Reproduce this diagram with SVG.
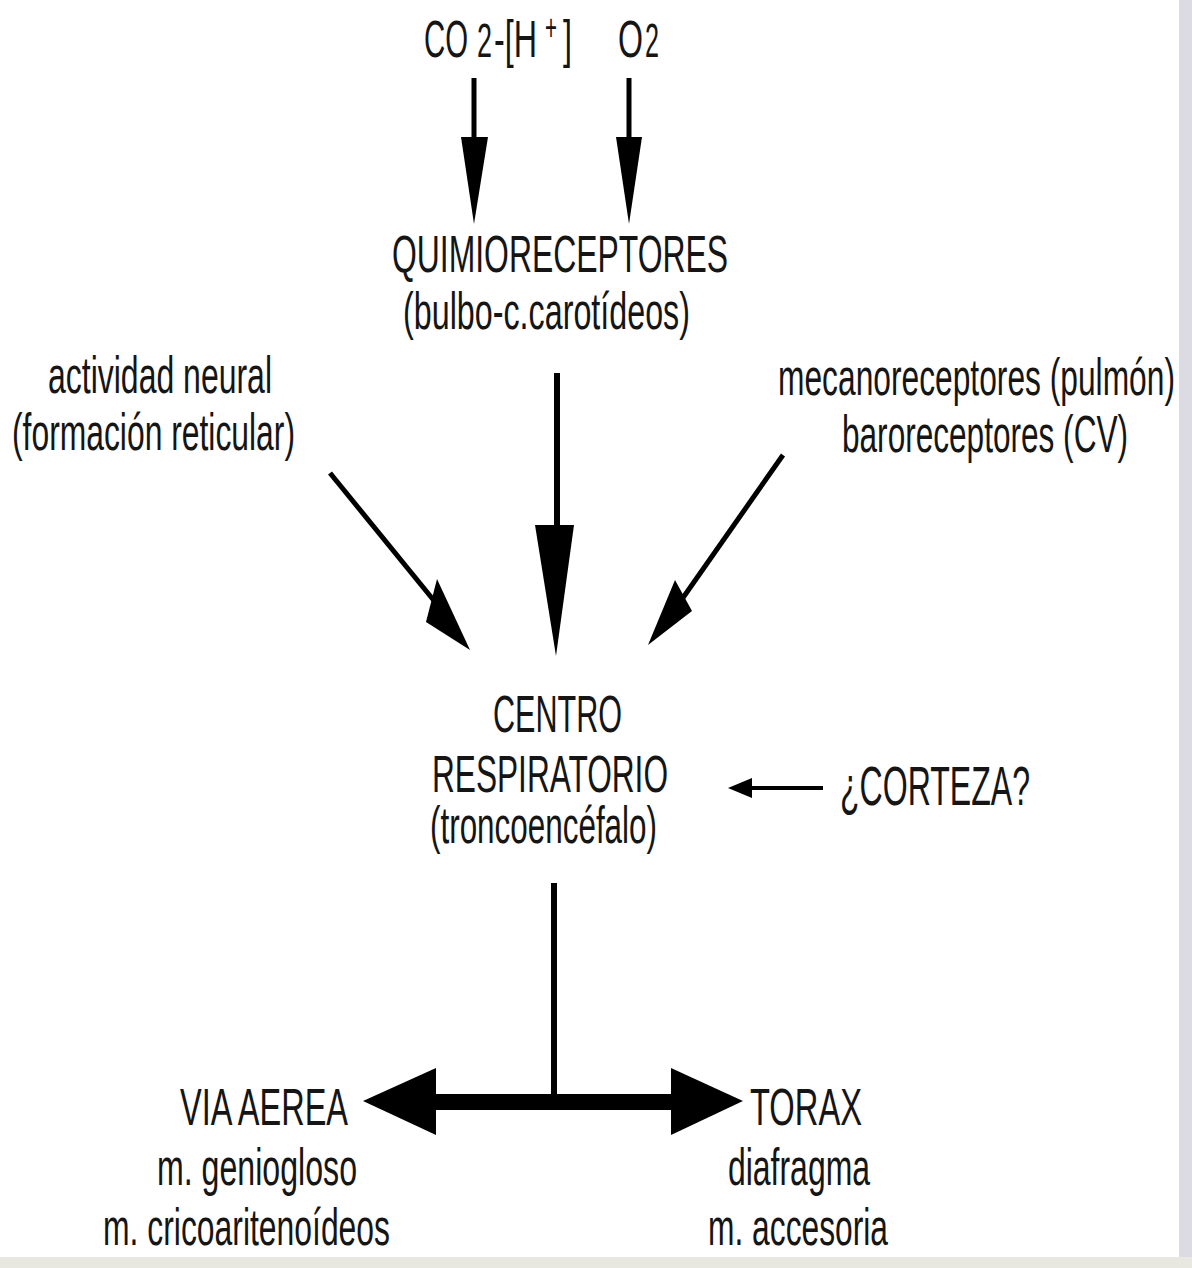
<svg xmlns="http://www.w3.org/2000/svg" width="1192" height="1268" viewBox="0 0 1192 1268">
<style>
.t{font-family:"Liberation Sans",Arial,Helvetica,sans-serif;font-size:52px;fill:#151515}
.s{font-size:48px}
.ln{stroke:#000;fill:none}
.hd{fill:#000;stroke:none}
</style>
<rect x="0" y="0" width="1192" height="1268" fill="#ffffff"/>
<rect x="1179" y="0" width="13" height="1268" fill="#dcdbe3"/>
<rect x="0" y="1257" width="1192" height="11" fill="#e9e8e0"/>

<g id="connectors">
  <line class="ln" x1="474" y1="78" x2="474" y2="140" stroke-width="5"/>
  <polygon class="hd" points="461,137 488,137 474,224"/>
  <line class="ln" x1="629" y1="78" x2="629" y2="140" stroke-width="5"/>
  <polygon class="hd" points="616,137 642,137 629,224"/>
  <line class="ln" x1="557" y1="373" x2="557" y2="530" stroke-width="6"/>
  <polygon class="hd" points="535,525 574,525 556,656"/>
  <line class="ln" x1="330" y1="473" x2="440" y2="608" stroke-width="5"/>
  <polygon class="hd" points="437,579 426,622 470,650"/>
  <line class="ln" x1="783" y1="455" x2="680" y2="602" stroke-width="5"/>
  <polygon class="hd" points="675,580 692,611 648,645"/>
  <line class="ln" x1="745" y1="788" x2="823" y2="788" stroke-width="4"/>
  <polygon class="hd" points="728,788 752,778 752,798"/>
  <line class="ln" x1="554" y1="883" x2="554" y2="1100" stroke-width="6"/>
  <rect class="hd" x="430" y="1094" width="247" height="16"/>
  <polygon class="hd" points="363,1101 436,1068 436,1135"/>
  <polygon class="hd" points="743,1101 671,1068 671,1135"/>
</g>

<g id="n-co2">
  <text class="t" x="424" y="57" textLength="44" lengthAdjust="spacingAndGlyphs">CO</text>
  <text class="t s" x="477" y="57" textLength="15" lengthAdjust="spacingAndGlyphs">2</text>
  <text class="t" x="494" y="57" textLength="43" lengthAdjust="spacingAndGlyphs">-[H</text>
  <text class="t" x="545" y="40" style="font-size:36px" textLength="12" lengthAdjust="spacingAndGlyphs">+</text>
  <text class="t" x="563" y="57" textLength="9" lengthAdjust="spacingAndGlyphs">]</text>
</g>
<g id="n-o2">
  <text class="t" x="618" y="57" textLength="25" lengthAdjust="spacingAndGlyphs">O</text>
  <text class="t s" x="645" y="57" textLength="14" lengthAdjust="spacingAndGlyphs">2</text>
</g>
<g id="n-quimio">
  <text class="t" x="392" y="272" textLength="336" lengthAdjust="spacingAndGlyphs">QUIMIORECEPTORES</text>
  <text class="t" x="403" y="329" textLength="287" lengthAdjust="spacingAndGlyphs">(bulbo-c.carotídeos)</text>
</g>
<g id="n-actividad">
  <text class="t" x="48" y="393" textLength="224" lengthAdjust="spacingAndGlyphs">actividad neural</text>
  <text class="t" x="12" y="450" textLength="283" lengthAdjust="spacingAndGlyphs">(formación reticular)</text>
</g>
<g id="n-mecano">
  <text class="t" x="778" y="395" textLength="397" lengthAdjust="spacingAndGlyphs">mecanoreceptores (pulmón)</text>
  <text class="t" x="842" y="452" textLength="286" lengthAdjust="spacingAndGlyphs">baroreceptores (CV)</text>
</g>
<g id="n-centro">
  <text class="t" x="493" y="732" textLength="129" lengthAdjust="spacingAndGlyphs">CENTRO</text>
  <text class="t" x="432" y="792" textLength="236" lengthAdjust="spacingAndGlyphs">RESPIRATORIO</text>
  <text class="t" x="430" y="843" textLength="227" lengthAdjust="spacingAndGlyphs">(troncoencéfalo)</text>
</g>
<g id="n-corteza">
  <text class="t" x="840" y="805" style="font-size:55px" textLength="190" lengthAdjust="spacingAndGlyphs">¿CORTEZA?</text>
</g>
<g id="n-via">
  <text class="t" x="180" y="1125" textLength="168" lengthAdjust="spacingAndGlyphs">VIA AEREA</text>
  <text class="t" x="157" y="1185" textLength="200" lengthAdjust="spacingAndGlyphs">m. geniogloso</text>
  <text class="t" x="103" y="1245" textLength="287" lengthAdjust="spacingAndGlyphs">m. cricoaritenoídeos</text>
</g>
<g id="n-torax">
  <text class="t" x="750" y="1125" textLength="112" lengthAdjust="spacingAndGlyphs">TORAX</text>
  <text class="t" x="728" y="1185" textLength="142" lengthAdjust="spacingAndGlyphs">diafragma</text>
  <text class="t" x="708" y="1245" textLength="180" lengthAdjust="spacingAndGlyphs">m. accesoria</text>
</g>
</svg>
